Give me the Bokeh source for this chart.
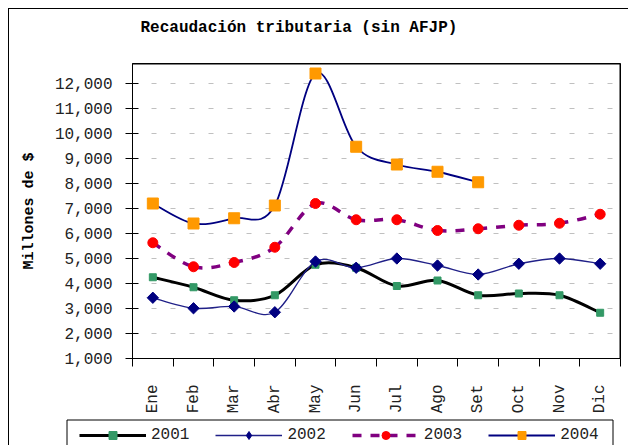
import math
from bokeh.plotting import figure
from bokeh.models import (FixedTicker, NumeralTickFormatter, Legend, LegendItem,
                          ColumnDataSource, Range1d, Span, Label)
from bokeh.embed import file_html
from bokeh.resources import INLINE

months = ["Ene", "Feb", "Mar", "Abr", "May", "Jun", "Jul", "Ago", "Set", "Oct", "Nov", "Dic"]
y2001 = [4250, 3850, 3330, 3530, 4750, 4630, 3900, 4120, 3530, 3600, 3530, 2830]
y2002 = [3430, 3010, 3080, 2850, 4880, 4630, 5000, 4720, 4360, 4790, 5000, 4790]
y2003 = [5630, 4670, 4840, 5450, 7200, 6550, 6550, 6120, 6190, 6330, 6410, 6770]
y2004 = [7200, 6400, 6610, 7120, 12400, 9470, 8760, 8470, 8050]
series_names = ["2001", "2002", "2003", "2004"]
y_ticks = list(range(1000, 13000, 1000))
Y_MIN, Y_MAX = 1000, 12800
TITLE = "Recaudación tributaria (sin AFJP)"

FONT = "Liberation Mono"
W = 620  # width of every strip (page is 629 wide, 8px margin + 1px border)

# ---------- title strip ----------
ts = figure(width=W, height=55, output_backend="svg", toolbar_location=None,
            x_range=Range1d(0, W), y_range=Range1d(0, 55),
            x_axis_location=None, y_axis_location=None,
            min_border_left=0, min_border_right=0, min_border_top=0, min_border_bottom=0)
ts.styles = {"margin-left": "8px", "margin-top": "8px",
             "border-left": "1px solid black", "border-top": "1px solid black"}
ts.outline_line_color = None
ts.grid.visible = False
ts.add_layout(Label(x=131, y=36.5, text=TITLE, text_align="left", text_baseline="middle",
                    text_font=FONT, text_font_size="16px", text_font_style="bold",
                    text_color="black"))

# ---------- main chart ----------
p = figure(width=W, height=355, output_backend="svg", toolbar_location=None,
           x_range=Range1d(0, len(months)), y_range=Range1d(Y_MIN, Y_MAX),
           min_border_left=123, min_border_right=9, min_border_top=0, min_border_bottom=60)
p.styles = {"margin-left": "8px", "border-left": "1px solid black"}
p.background_fill_color = "white"
p.border_fill_color = "white"
p.outline_line_color = "black"
p.outline_line_width = 1

# frame edges (top and right)
p.add_layout(Span(location=Y_MAX, dimension="width", line_color="black", line_width=2))
p.add_layout(Span(location=len(months), dimension="height", line_color="black", line_width=2))

# grid
p.xgrid.visible = False
p.ygrid.ticker = FixedTicker(ticks=y_ticks)
p.ygrid.grid_line_color = "#c0c0c0"
p.ygrid.grid_line_width = 1.2
p.ygrid.grid_line_dash = "5 14"

# y axis
p.yaxis.ticker = FixedTicker(ticks=y_ticks)
p.yaxis.formatter = NumeralTickFormatter(format="0,0")
p.yaxis.major_tick_in = 6
p.yaxis.major_tick_out = 7
p.yaxis.minor_tick_line_color = None
p.yaxis.major_label_standoff = 13
p.yaxis.major_label_text_font = FONT
p.yaxis.major_label_text_font_size = "16px"
p.yaxis.major_label_text_color = "#222222"
p.yaxis.axis_line_color = "black"
p.yaxis.axis_label = "Millones de $"
p.yaxis.axis_label_standoff = 14
p.yaxis.axis_label_text_font = FONT
p.yaxis.axis_label_text_font_size = "15px"
p.yaxis.axis_label_text_font_style = "bold"
p.yaxis.axis_label_text_color = "black"

# x axis
centers = [i + 0.5 for i in range(len(months))]
p.xaxis.ticker = FixedTicker(ticks=centers, minor_ticks=list(range(len(months) + 1)))
p.xaxis.major_label_overrides = {c: m for c, m in zip(centers, months)}
p.xaxis.major_tick_line_color = None
p.xaxis.major_tick_in = 0
p.xaxis.major_tick_out = 0
p.xaxis.minor_tick_in = 0
p.xaxis.minor_tick_out = 8
p.xaxis.minor_tick_line_color = "black"
p.xaxis.major_label_orientation = math.pi / 2
p.xaxis.major_label_standoff = 18
p.xaxis.major_label_text_font = FONT
p.xaxis.major_label_text_font_size = "16px"
p.xaxis.major_label_text_color = "#222222"
p.xaxis.axis_line_color = "black"


def smooth_segments(xs, ys):
    n = len(xs)
    d = dict(x0=[], y0=[], x1=[], y1=[], cx0=[], cy0=[], cx1=[], cy1=[])
    for i in range(n - 1):
        xm, ym = (xs[i - 1], ys[i - 1]) if i > 0 else (xs[i], ys[i])
        xp, yp = (xs[i + 2], ys[i + 2]) if i + 2 < n else (xs[i + 1], ys[i + 1])
        d["x0"].append(xs[i]); d["y0"].append(ys[i])
        d["x1"].append(xs[i + 1]); d["y1"].append(ys[i + 1])
        d["cx0"].append(xs[i] + (xs[i + 1] - xm) / 6.0)
        d["cy0"].append(ys[i] + (ys[i + 1] - ym) / 6.0)
        d["cx1"].append(xs[i + 1] - (xp - xs[i]) / 6.0)
        d["cy1"].append(ys[i + 1] - (yp - ys[i]) / 6.0)
    return ColumnDataSource(d)


styles = [
    dict(line_color="black", line_width=3, line_dash="solid", leg_marker="square",
         marker="square", size=7, angle=0, fill="#339966", mline="#339966"),
    dict(line_color="#202088", line_width=1.3, line_dash="solid", leg_marker="diamond",
         marker="square", size=8, angle=math.pi / 4, fill="#000080", mline="#000080"),
    dict(line_color="#800080", line_width=3.5, line_dash="9 9", leg_marker="circle",
         marker="circle", size=10, angle=0, fill="#ff0000", mline="#ff0000"),
    dict(line_color="#000080", line_width=1.8, line_dash="solid", leg_marker="square",
         marker="square", size=11, angle=0, fill="#ff9900", mline="#ff9900"),
]

# ---------- legend strip (legend box cut by the window edge, as in the original) ----------
LH = 27
pl = figure(width=W, height=LH, output_backend="svg", toolbar_location=None,
            x_range=Range1d(0, W), y_range=Range1d(0, LH),
            x_axis_location=None, y_axis_location=None,
            min_border_left=0, min_border_right=0, min_border_top=0, min_border_bottom=0)
pl.styles = {"margin-left": "8px", "border-left": "1px solid black"}
pl.outline_line_color = None
pl.grid.visible = False
pl.background_fill_color = "white"
pl.border_fill_color = "white"

# legend frame
BOX_L, BOX_R, BOX_T = 57.5, 603.5, LH - 1.5
pl.quad(left=[BOX_L], right=[BOX_R], top=[BOX_T], bottom=[-10], fill_color=None,
        line_color="black", line_width=1)

items = []
for name, ys, st in zip(series_names, [y2001, y2002, y2003, y2004], styles):
    xs = centers[:len(ys)]
    src = smooth_segments(xs, ys)
    p.bezier(x0="x0", y0="y0", x1="x1", y1="y1", cx0="cx0", cy0="cy0",
             cx1="cx1", cy1="cy1", source=src, line_color=st["line_color"],
             line_width=st["line_width"], line_dash=st["line_dash"])
    p.scatter(xs, ys, marker=st["marker"], size=st["size"], angle=st["angle"],
              fill_color=st["fill"], line_color=st["mline"], line_width=1)
    # legend proxies (kept outside the strip's visible range)
    lr = pl.line([-50, -40], [-50, -50], line_color=st["line_color"],
                 line_width=st["line_width"], line_dash=st["line_dash"])
    sr = pl.scatter([-50], [-50], marker=st["leg_marker"], size=st["size"],
                    fill_color=st["fill"], line_color=st["mline"], line_width=1)
    items.append(LegendItem(label=name, renderers=[lr, sr]))

legend = Legend(items=items, orientation="horizontal", location=(70, 0),
                glyph_width=67, glyph_height=20, label_standoff=5, spacing=26,
                padding=4, margin=0, label_height=20,
                label_text_font=FONT, label_text_font_size="16px",
                label_text_color="#222222",
                border_line_color=None, background_fill_alpha=0)
pl.add_layout(legend, "center")

open("out.html", "w").write(file_html([ts, p, pl], INLINE))
